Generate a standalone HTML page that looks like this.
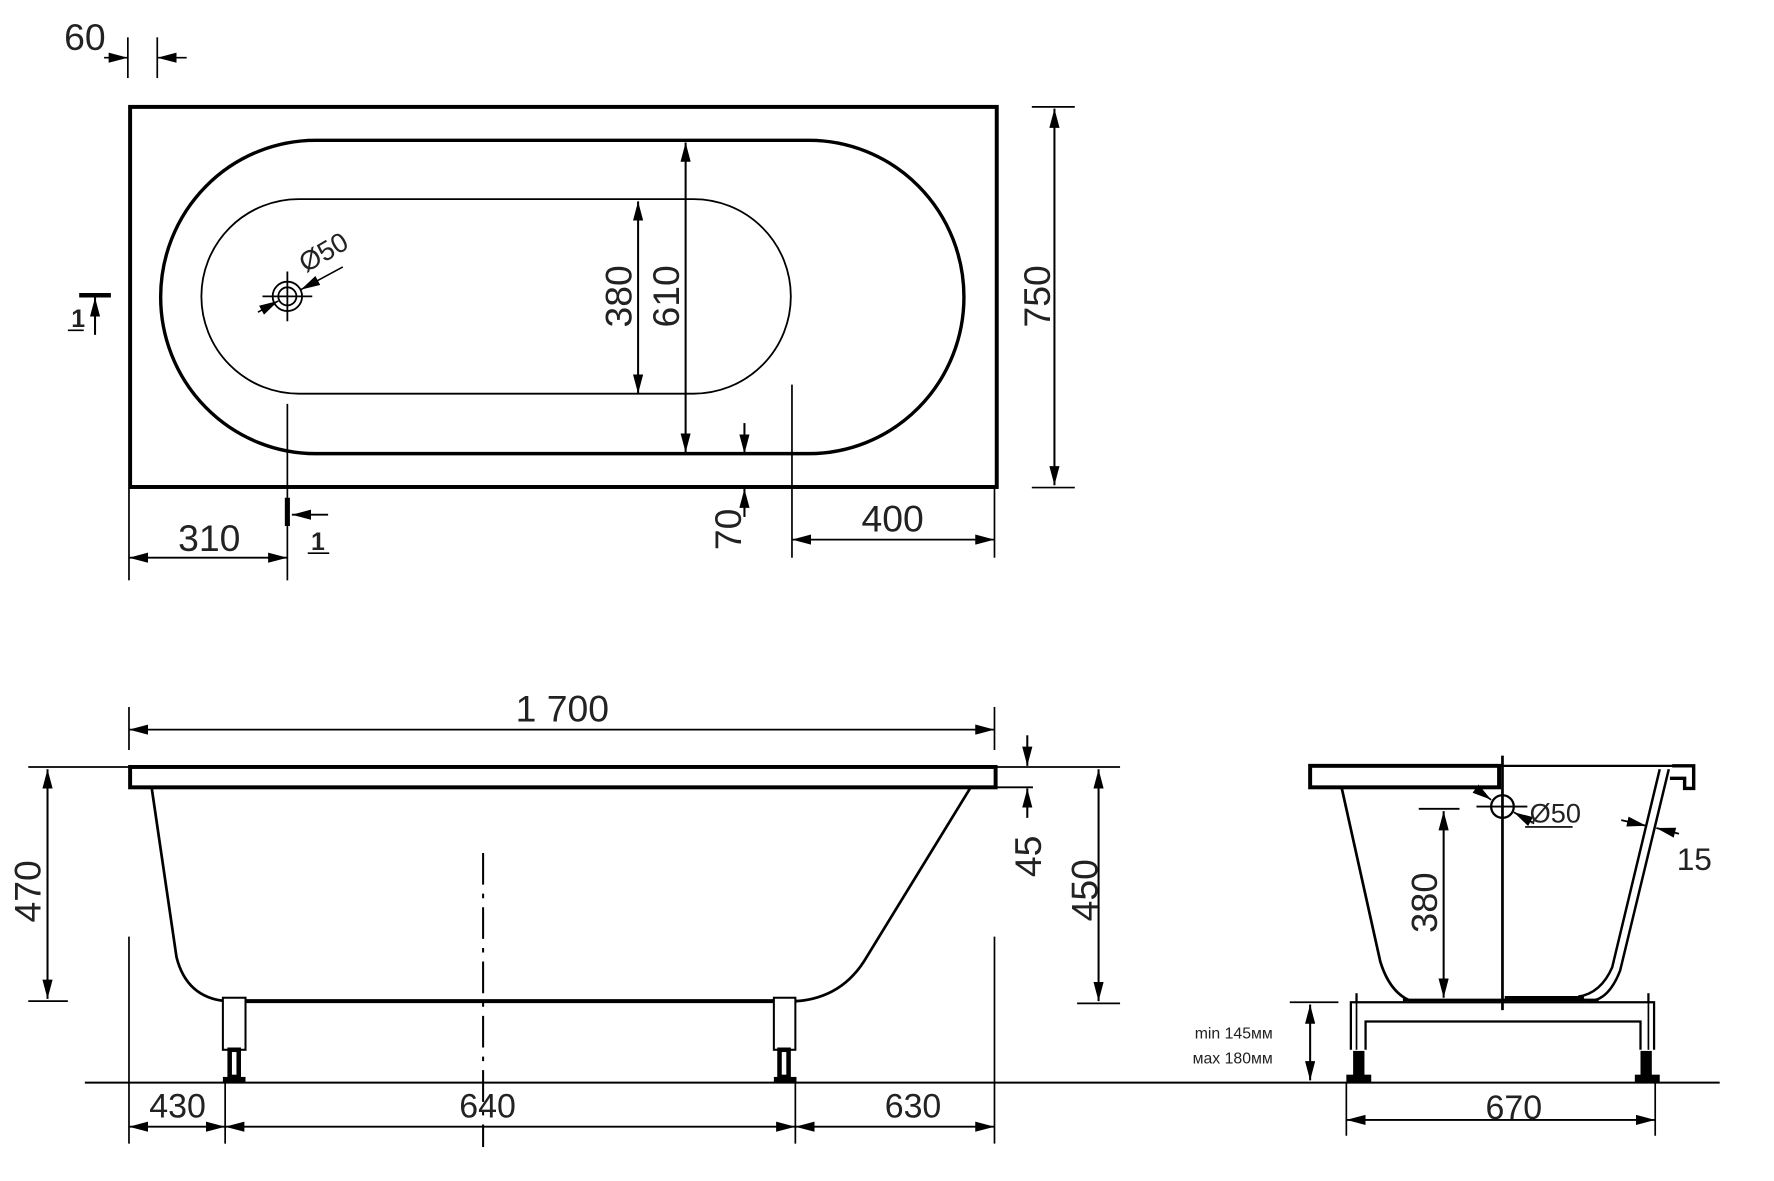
<!DOCTYPE html>
<html><head><meta charset="utf-8"><style>
html,body{margin:0;padding:0;background:#fff;}
svg{display:block;}
text{font-family:"Liberation Sans",Arial,sans-serif;fill:#222;}
</style></head><body>
<svg width="1774" height="1181" viewBox="0 0 1568 1044" preserveAspectRatio="none" xmlns="http://www.w3.org/2000/svg">
<defs>
<marker id="a" markerUnits="userSpaceOnUse" markerWidth="18" markerHeight="9" refX="17" refY="4.5" orient="auto-start-reverse"><path d="M0,0 L17,4.5 L0,9 z" fill="#000"/></marker>
</defs>
<g stroke="#000" fill="none">
<!-- TOP VIEW -->
<rect x="115" y="94.5" width="766" height="336" stroke-width="3.5"/>
<rect x="142" y="124" width="710" height="277" rx="137" ry="138.5" stroke-width="3"/>
<rect x="178" y="176" width="521" height="172" rx="86" ry="86" stroke-width="1.6"/>
<!-- drain -->
<circle cx="254" cy="262" r="13" stroke-width="1.6"/>
<circle cx="254" cy="262" r="8" stroke-width="1.6"/>
<line x1="232" y1="262" x2="276" y2="262" stroke-width="1.6"/>
<line x1="254" y1="240" x2="254" y2="284" stroke-width="1.6"/>
<line x1="228" y1="276" x2="246" y2="266" stroke-width="1.4" marker-end="url(#a)"/>
<line x1="303" y1="236" x2="266" y2="256" stroke-width="1.4" marker-end="url(#a)"/>
<!-- 60 -->
<line x1="113" y1="33" x2="113" y2="69" stroke-width="1.5"/>
<line x1="139" y1="33" x2="139" y2="69" stroke-width="1.5"/>
<line x1="92" y1="51" x2="113" y2="51" stroke-width="1.5" marker-end="url(#a)"/>
<line x1="165" y1="51" x2="139" y2="51" stroke-width="1.5" marker-end="url(#a)"/>
<!-- section 1 left -->
<line x1="70" y1="261" x2="98" y2="261" stroke-width="4"/>
<line x1="84" y1="296" x2="84" y2="263" stroke-width="1.8" marker-end="url(#a)"/>
<line x1="60" y1="292" x2="74" y2="292" stroke-width="1.5"/>
<!-- section 1 bottom -->
<line x1="254" y1="357" x2="254" y2="513" stroke-width="1.5"/>
<line x1="254" y1="440" x2="254" y2="465" stroke-width="4.5"/>
<line x1="290" y1="455" x2="258" y2="455" stroke-width="1.6" marker-end="url(#a)"/>
<line x1="272" y1="489" x2="291" y2="489" stroke-width="1.5"/>
<!-- 310 -->
<line x1="114" y1="432" x2="114" y2="513" stroke-width="1.5"/>
<line x1="114" y1="493" x2="254" y2="493" stroke-width="1.6" marker-start="url(#a)" marker-end="url(#a)"/>
<!-- 380 / 610 -->
<line x1="564" y1="178" x2="564" y2="348" stroke-width="1.8" marker-start="url(#a)" marker-end="url(#a)"/>
<line x1="606" y1="126" x2="606" y2="400" stroke-width="1.8" marker-start="url(#a)" marker-end="url(#a)"/>
<!-- 70 -->
<line x1="658" y1="374" x2="658" y2="401" stroke-width="1.8" marker-end="url(#a)"/>
<line x1="658" y1="457" x2="658" y2="432" stroke-width="1.8" marker-end="url(#a)"/>
<!-- 400 -->
<line x1="700" y1="340" x2="700" y2="493" stroke-width="1.5"/>
<line x1="879" y1="432" x2="879" y2="493" stroke-width="1.5"/>
<line x1="700" y1="477" x2="879" y2="477" stroke-width="1.6" marker-start="url(#a)" marker-end="url(#a)"/>
<!-- 750 -->
<line x1="912" y1="94.5" x2="950" y2="94.5" stroke-width="1.5"/>
<line x1="912" y1="431" x2="950" y2="431" stroke-width="1.5"/>
<line x1="932" y1="96" x2="932" y2="429" stroke-width="1.8" marker-start="url(#a)" marker-end="url(#a)"/>

<!-- FRONT VIEW -->
<line x1="25" y1="678" x2="990" y2="678" stroke-width="1.6"/>
<rect x="115" y="678" width="765" height="18" stroke-width="3.5"/>
<line x1="880" y1="696" x2="913" y2="696" stroke-width="1.6"/>
<path d="M134,696 L156,846 Q165,882 200,885 L704,885 Q745,882 766,846 L858,696" stroke-width="2.4"/>
<line x1="200" y1="885" x2="704" y2="885" stroke-width="3.5"/>
<line x1="427" y1="754" x2="427" y2="1014" stroke-width="1.8" stroke-dasharray="28,8,4,8"/>
<!-- legs -->
<rect x="197" y="882" width="20" height="46" stroke-width="1.8" fill="#fff"/>
<rect x="203" y="928" width="8" height="24" stroke-width="4" fill="#fff"/>
<rect x="197" y="952" width="20" height="5" fill="#000" stroke-width="0"/>
<rect x="684" y="882" width="19" height="46" stroke-width="1.8" fill="#fff"/>
<rect x="689" y="928" width="8" height="24" stroke-width="4" fill="#fff"/>
<rect x="684" y="952" width="20" height="5" fill="#000" stroke-width="0"/>
<line x1="75" y1="957" x2="1520" y2="957" stroke-width="1.8"/>
<!-- 1700 -->
<line x1="114" y1="625" x2="114" y2="663" stroke-width="1.5"/>
<line x1="879" y1="625" x2="879" y2="663" stroke-width="1.5"/>
<line x1="114" y1="645" x2="879" y2="645" stroke-width="1.6" marker-start="url(#a)" marker-end="url(#a)"/>
<!-- 470 -->
<line x1="25" y1="885" x2="60" y2="885" stroke-width="1.5"/>
<line x1="42" y1="680" x2="42" y2="883" stroke-width="1.8" marker-start="url(#a)" marker-end="url(#a)"/>
<!-- 45 -->
<line x1="908" y1="650" x2="908" y2="677" stroke-width="1.8" marker-end="url(#a)"/>
<line x1="908" y1="723" x2="908" y2="697" stroke-width="1.8" marker-end="url(#a)"/>
<!-- 450 -->
<line x1="952" y1="887" x2="990" y2="887" stroke-width="1.6"/>
<line x1="971" y1="680" x2="971" y2="885" stroke-width="1.8" marker-start="url(#a)" marker-end="url(#a)"/>
<!-- bottom dims -->
<line x1="114" y1="828" x2="114" y2="1011" stroke-width="1.5"/>
<line x1="879" y1="828" x2="879" y2="1011" stroke-width="1.5"/>
<line x1="199" y1="957" x2="199" y2="1011" stroke-width="1.5"/>
<line x1="703" y1="957" x2="703" y2="1011" stroke-width="1.5"/>
<line x1="114" y1="996" x2="199" y2="996" stroke-width="1.6" marker-start="url(#a)" marker-end="url(#a)"/>
<line x1="199" y1="996" x2="703" y2="996" stroke-width="1.6" marker-start="url(#a)" marker-end="url(#a)"/>
<line x1="703" y1="996" x2="879" y2="996" stroke-width="1.6" marker-start="url(#a)" marker-end="url(#a)"/>

<!-- SIDE VIEW -->
<rect x="1158" y="677" width="167" height="19" stroke-width="3.5"/>
<line x1="1325" y1="677" x2="1497" y2="677" stroke-width="2"/>
<path d="M1478,677 L1497,677 L1497,697 L1489,697 L1489,688 L1476,688" stroke-width="3"/>
<line x1="1328" y1="668" x2="1328" y2="893" stroke-width="2.4"/>
<path d="M1186,697 L1220,850 Q1228,876 1245,884" stroke-width="2.4"/>
<line x1="1240" y1="884" x2="1413" y2="884" stroke-width="2.4"/>
<line x1="1330" y1="882" x2="1400" y2="882" stroke-width="3"/>
<path d="M1467,680 L1425,855 Q1415,878 1395,881" stroke-width="2.2"/>
<path d="M1475,680 L1432,858 Q1422,884 1405,885" stroke-width="2.2"/>
<!-- drain -->
<circle cx="1328" cy="713" r="10" stroke-width="2"/>
<line x1="1305" y1="713" x2="1350" y2="713" stroke-width="1.6"/>
<line x1="1304" y1="697" x2="1318" y2="707" stroke-width="1.5" marker-end="url(#a)"/>
<line x1="1356" y1="728" x2="1338" y2="718" stroke-width="1.5" marker-end="url(#a)"/>
<line x1="1348" y1="731" x2="1390" y2="731" stroke-width="1.4"/>
<!-- 380 -->
<line x1="1254" y1="715" x2="1290" y2="715" stroke-width="1.6"/>
<line x1="1276" y1="717" x2="1276" y2="882" stroke-width="1.8" marker-start="url(#a)" marker-end="url(#a)"/>
<!-- 15 -->
<line x1="1433" y1="725" x2="1455" y2="730" stroke-width="1.6" marker-end="url(#a)"/>
<line x1="1484" y1="737" x2="1464" y2="732" stroke-width="1.6" marker-end="url(#a)"/>
<!-- frame -->
<path d="M1194,928 L1194,886 L1462,886 L1462,928" stroke-width="2"/>
<path d="M1207,928 L1207,903 L1450,903 L1450,928" stroke-width="2"/>
<line x1="1199" y1="886" x2="1199" y2="928" stroke-width="1.5"/>
<line x1="1457" y1="886" x2="1457" y2="928" stroke-width="1.5"/>
<rect x="1196" y="929" width="10" height="26" fill="#000" stroke-width="0"/>
<rect x="1450" y="929" width="10" height="26" fill="#000" stroke-width="0"/>
<rect x="1190" y="950" width="22" height="7" fill="#000" stroke-width="0"/>
<rect x="1445" y="950" width="22" height="7" fill="#000" stroke-width="0"/>
<line x1="1199" y1="878" x2="1199" y2="886" stroke-width="2"/>
<line x1="1457" y1="878" x2="1457" y2="886" stroke-width="2"/>
<!-- min/max -->
<line x1="1140" y1="886" x2="1183" y2="886" stroke-width="1.6"/>
<line x1="1158" y1="888" x2="1158" y2="955" stroke-width="1.8" marker-start="url(#a)" marker-end="url(#a)"/>
<!-- 670 -->
<line x1="1190" y1="957" x2="1190" y2="1004" stroke-width="1.5"/>
<line x1="1463" y1="957" x2="1463" y2="1004" stroke-width="1.5"/>
<line x1="1190" y1="990" x2="1463" y2="990" stroke-width="1.6" marker-start="url(#a)" marker-end="url(#a)"/>
</g>

<g font-size="33">
<text x="75" y="44" text-anchor="middle">60</text>
<text x="63" y="289" font-size="22" font-weight="bold">1</text>
<text x="281" y="486" font-size="22" font-weight="bold" text-anchor="middle">1</text>
<text x="185" y="487" text-anchor="middle">310</text>
<text x="789" y="470" text-anchor="middle">400</text>
<text transform="translate(290,230) rotate(-30)" font-size="24" text-anchor="middle">Ø50</text>
<text transform="translate(558,262) rotate(-90)" text-anchor="middle">380</text>
<text transform="translate(600,262) rotate(-90)" text-anchor="middle">610</text>
<text transform="translate(655,468) rotate(-90)" text-anchor="middle">70</text>
<text transform="translate(928,262) rotate(-90)" text-anchor="middle">750</text>
<text x="497" y="638" text-anchor="middle">1 700</text>
<text transform="translate(36,788) rotate(-90)" text-anchor="middle">470</text>
<text transform="translate(920,757) rotate(-90)" text-anchor="middle">45</text>
<text transform="translate(970,787) rotate(-90)" text-anchor="middle">450</text>
<text x="157" y="988" text-anchor="middle" font-size="30">430</text>
<text x="431" y="988" text-anchor="middle" font-size="30">640</text>
<text x="807" y="988" text-anchor="middle" font-size="30">630</text>
<text x="1338" y="989" text-anchor="middle" font-size="30">670</text>
<text transform="translate(1270,798) rotate(-90)" text-anchor="middle" font-size="32">380</text>
<text x="1352" y="727" font-size="24">Ø50</text>
<text x="1482" y="769" font-size="28">15</text>
<text x="1125" y="918" font-size="14" text-anchor="end">min 145мм</text>
<text x="1125" y="940" font-size="14" text-anchor="end">мах 180мм</text>
</g>
</svg>
</body></html>
